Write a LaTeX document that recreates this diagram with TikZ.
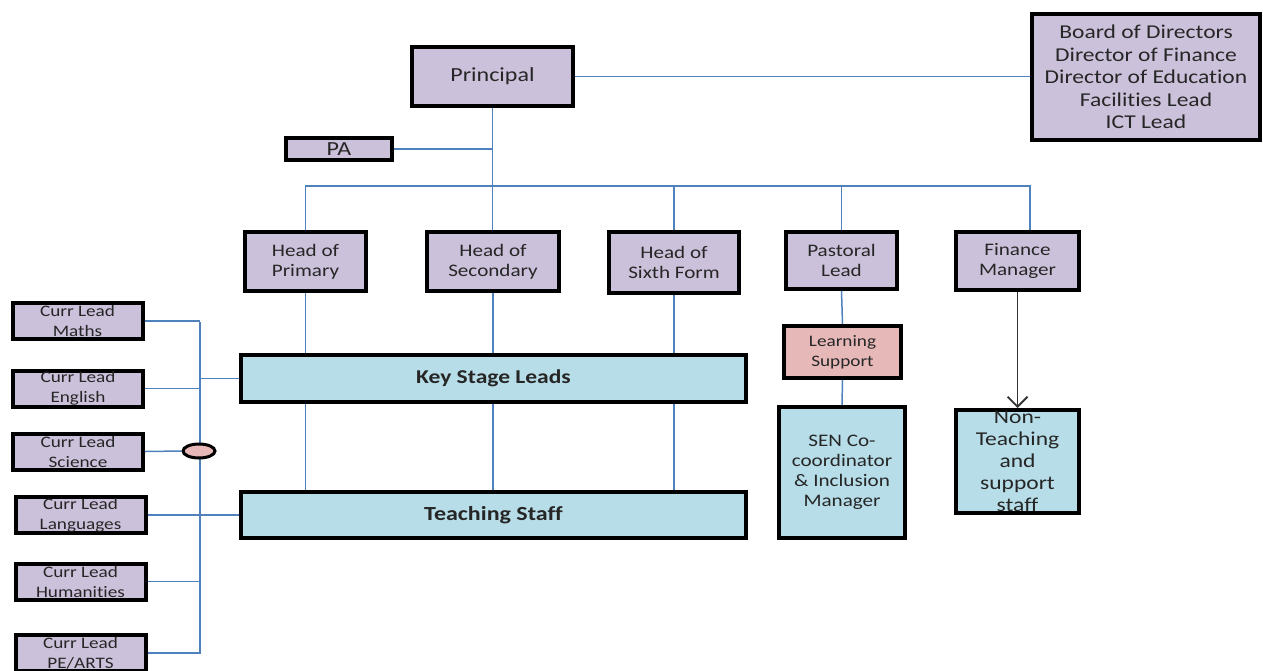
\documentclass[tikz,border=0pt]{standalone}
\usepackage{fontspec}
\setmainfont[FakeStretch=1.2, Ligatures={NoCommon,NoContextual}]{Carlito}
\usetikzlibrary{arrows.meta,shapes.geometric}

\definecolor{lavender}{HTML}{CCC1DA}
\definecolor{paleblue}{HTML}{B7DDE8}
\definecolor{palepink}{HTML}{E6B9B8}
\definecolor{linkblue}{HTML}{4F81BD}

\begin{document}
\begin{tikzpicture}[x=0.5pt, y=-0.5pt,
  box/.style={draw=black, line width=2pt, fill=lavender, inner sep=0pt,
    align=center, text=black!85, font=\fontsize{8.8}{10}\selectfont},
  bluebox/.style={box, fill=paleblue},
  curr/.style={box, minimum width=65pt, minimum height=18pt,
    font=\fontsize{8}{10}\selectfont},
  link/.style={draw=linkblue, line width=0.75pt},
]
\useasboundingbox (0,0) rectangle (1263,670);

% top of the chart
\node[box, minimum width=80.5pt, minimum height=29.5pt, font=\fontsize{10}{11}\selectfont]
  (principal) at (492.5,76.5) {Principal};
\node[box, minimum width=114pt, minimum height=63pt, font=\fontsize{9.8}{11.25}\selectfont]
  (board) at (1146,77) {Board of Directors\\Director of Finance\\Director of Education\\Facilities Lead\\ICT Lead};
\node[box, minimum width=53pt, minimum height=11pt, font=\fontsize{10}{11}\selectfont] (pa) at (339,149) {PA};

% heads
\node[box, minimum width=60.5pt, minimum height=29.5pt] (primary) at (305.5,261.5) {Head of\\Primary};
\node[box, minimum width=66pt, minimum height=29.5pt] (secondary) at (493,261.5) {Head of\\Secondary};
\node[box, minimum width=65pt, minimum height=30.5pt] (sixth) at (674,262.5) {Head of\\Sixth Form};
\node[box, minimum width=55.5pt, minimum height=28.5pt] (pastoral) at (841.5,260.5) {Pastoral\\Lead};
\node[box, minimum width=61.5pt, minimum height=29pt] (finance) at (1017.5,261) {Finance\\Manager};

% staff
\node[bluebox, minimum width=252.5pt, minimum height=23.5pt, font=\bfseries\fontsize{9.8}{10}\selectfont]
  (ksl) at (493.5,378.5) {Key Stage Leads};
\node[bluebox, minimum width=252.5pt, minimum height=23pt, font=\bfseries\fontsize{10}{10}\selectfont]
  (teach) at (493.5,515) {Teaching Staff};
\node[box, fill=palepink, minimum width=58.5pt, minimum height=26pt, font=\fontsize{8}{10}\selectfont]
  (learn) at (842.5,352) {Learning\\Support};
\node[bluebox, minimum width=63pt, minimum height=65.5pt] (sen) at (842,472.5)
  {SEN Co-\\coordinator\\\& Inclusion\\Manager};
\node[bluebox, minimum width=61.5pt, minimum height=51.5pt, font=\fontsize{9.8}{11}\selectfont]
  (nonteach) at (1017.5,461.5) {Non-\\Teaching\\and\\support\\staff};

% curriculum leads
\foreach \n/\t/\x/\y in {maths/Maths/77.5/321, english/English/78/388.5,
    science/Science/78/451.5, lang/Languages/80.5/515,
    hum/Humanities/80.5/581.5, pe/PE\slash ARTS/80.5/653}
  \node[curr] (\n) at (\x,\y) {Curr Lead\\\t};

% connectors
\coordinate (branch) at (306,186);
\coordinate (fdrop) at (1030,230);
\draw[link] (principal.east) -- (principal.east -| board.west);
\draw[link] (principal.south) -- (principal.south |- secondary.north);
\draw[link] (pa.east) -- (pa.east -| principal.south);
\draw[link] (primary.north) |- (branch -| fdrop) -- (fdrop);
\foreach \n in {sixth, pastoral}
  \draw[link] (\n.north) -- (\n.north |- branch);
\foreach \n in {primary, secondary, sixth} {
  \draw[link] (\n.south) -- (\n.south |- ksl.north);
  \draw[link] (\n.south |- ksl.south) -- (\n.south |- teach.north);
}
\draw[link] (pastoral.south) -- (learn.north);
\draw[link] (learn.south) -- (sen.north);
\draw[black!80, line width=0.9pt, -{Straight Barb[length=5pt, width=10pt]}]
  (finance.south) -- (nonteach.north);

% left bus
\coordinate (bustop) at (200,322);
\coordinate (busbot) at (200,654);
\draw[link] (bustop) -- (busbot);
\foreach \n in {maths, english, hum, pe}
  \draw[link] (\n.east) -- (\n.east -| bustop);
\draw[link] (ksl.west) -- (ksl.west -| bustop);
\draw[link] (lang.east) -- (teach.west);
\node[ellipse, draw=black, line width=1.5pt, fill=palepink, inner sep=0pt,
  minimum width=16pt, minimum height=7pt] (oval) at (199,451) {};
\draw[link] (science.east) -- (oval.west);
\end{tikzpicture}
\end{document}
